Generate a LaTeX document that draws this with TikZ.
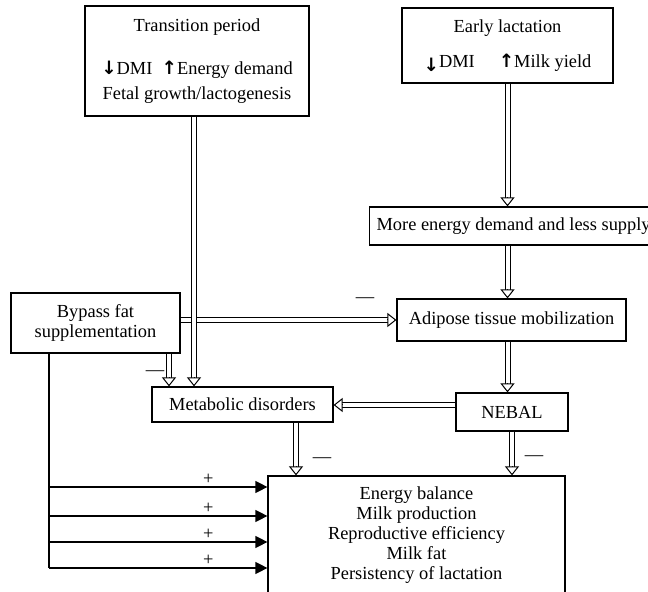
\documentclass[tikz,border=0pt]{standalone}
\usepackage{fontspec}
\setmainfont{Liberation Serif}
\newfontfamily\arrowfont{DejaVu Sans}
\usetikzlibrary{arrows.meta,calc}
\tikzset{box/.style={draw, line width=.6pt, align=center, inner sep=0pt},
         shaft/.style={double, double distance=2pt, line width=.5pt, shorten >=4pt},
         tip/.style={line width=.5pt, -{Triangle[width=7pt,length=4.5pt,fill=white]}},
         feed/.style={line width=.6pt, -{Triangle[width=6pt,length=6pt]}}}
\newcommand{\hollow}[2]{\draw[shaft] #1 -- #2; \draw[tip] ($#2!4.5pt!#1$) -- #2;}
\newcommand{\dn}{{\arrowfont\bfseries ↓}}
\newcommand{\up}{{\arrowfont\bfseries ↑}}

\begin{document}
\begin{tikzpicture}[x=0.5pt, y=-0.5pt, font=\fontsize{9.2}{10}\selectfont]
        \path[use as bounding box, clip] (0,0) rectangle (648,592);

        \node[box, minimum width=112pt, minimum height=55pt] (trans) at (197,61)
            {Transition period\\[11.5pt] \dn DMI\ \ \up Energy demand\\[2.5pt] Fetal growth/lactogenesis};
        \node[box, minimum width=105.5pt, minimum height=37.5pt] (early) at (507.5,45.5)
            {Early lactation\\[7.5pt] \raisebox{-2pt}{\dn}DMI\hspace{12pt}\up Milk yield};
        \node[box, anchor=west, minimum height=19pt, inner xsep=3.5pt] (more) at (369,226)
            {More energy demand and less supply};
        \node[box, minimum width=114.5pt, minimum height=21pt] (adipose) at (511.5,320) {Adipose tissue mobilization};
        \node[box, minimum width=56pt, minimum height=19pt] (nebal) at (512,412) {NEBAL};
        \node[box, minimum width=90.5pt, minimum height=17.5pt] (metab) at (242.5,404.5) {Metabolic disorders};
        \node[box, minimum width=84.5pt, minimum height=30pt] (bypass) at (95.5,323) {Bypass fat\\supplementation};
        \node[box, minimum width=148.5pt, minimum height=59pt] (effects) at (416.5,535)
            {Energy balance\\Milk production\\Reproductive efficiency\\Milk fat\\Persistency of lactation};

        \coordinate (tdrop) at ([xshift=-1.5pt]trans.south);
        \coordinate (bdrop) at ([xshift=36.75pt]bypass.south);
        \coordinate (bout) at ([yshift=1.5pt]bypass.east);
        \coordinate (nout) at ([yshift=3.5pt]nebal.west);
        \coordinate (mdrop) at ([xshift=26.75pt]metab.south);
        \coordinate (trunk) at ([xshift=-23.25pt]bypass.south);

        % hollow arrows
        \hollow{(bout)}{(bout -| adipose.west)}
        \hollow{(tdrop)}{(tdrop |- metab.north)}
        \hollow{(bdrop)}{(bdrop |- metab.north)}
        \hollow{(early.south)}{(early.south |- more.north)}
        \hollow{(more.south -| early.south)}{(adipose.north -| early.south)}
        \hollow{(adipose.south -| early.south)}{(nebal.north -| early.south)}
        \hollow{(nout)}{(nout -| metab.east)}
        \hollow{(mdrop)}{(mdrop |- effects.north)}
        \hollow{(nebal.south)}{(nebal.south |- effects.north)}

        % feeding lines
        \foreach \dy [count=\i] in {24,9.5,-3.5,-16.5}{
            \coordinate (in\i) at ([yshift=\dy pt]effects.west);
            \draw[feed] (trunk |- in\i) -- (in\i) node[pos=.73, above, inner sep=1pt]{+};
        }
        \draw[line width=.6pt] (trunk) -- (trunk |- in4);

        \node (m1) at (365,300) {---};
        \node (m2) at (155,373) {---};
        \node (m3) at (322,460) {---};
        \node (m4) at (534,458) {---};
    \end{tikzpicture}
\end{document}
